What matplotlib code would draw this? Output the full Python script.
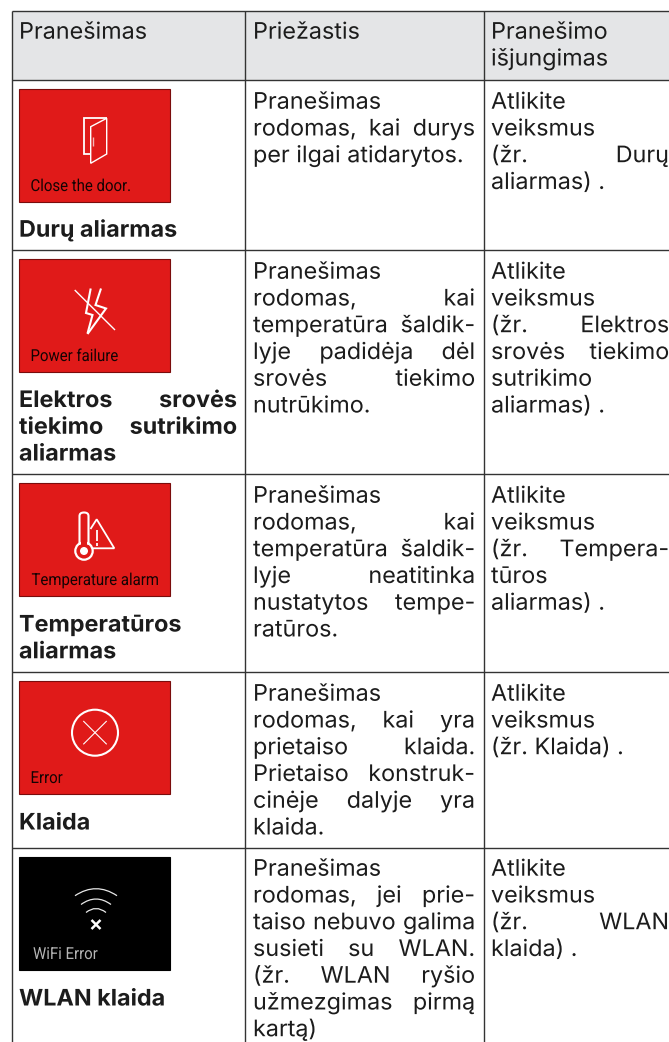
import matplotlib
matplotlib.use("Agg")
import matplotlib.pyplot as plt
from matplotlib.patches import Rectangle, Circle, Polygon, PathPatch
from matplotlib.path import Path
from matplotlib.patheffects import AbstractPathEffect
from matplotlib.transforms import Affine2D

W, H = 669, 1042
BODY = "Inter"
FS = 16.4
LEAD = 26.75
BODY_SX = 1.025
LABEL_SX = 0.905

header_1 = ["Pranešimas"]
header_2 = ["Priežastis"]
header_3 = ["Pranešimo", "išjungimas"]

# a leading ">" marks a justified line
names = [
    ["Durų aliarmas"],
    [">Elektros srovės", ">tiekimo sutrikimo", "aliarmas"],
    ["Temperatūros", "aliarmas"],
    ["Klaida"],
    ["WLAN klaida"],
]
reasons = [
    ["Pranešimas", ">rodomas, kai durys", "per ilgai atidarytos."],
    ["Pranešimas", ">rodomas, kai", ">temperatūra šaldik-", ">lyje padidėja dėl", ">srovės tiekimo", "nutrūkimo."],
    ["Pranešimas", ">rodomas, kai", ">temperatūra šaldik-", ">lyje neatitinka", ">nustatytos tempe-", "ratūros."],
    ["Pranešimas", ">rodomas, kai yra", ">prietaiso klaida.", ">Prietaiso konstruk-", ">cinėje dalyje yra", "klaida."],
    ["Pranešimas", ">rodomas, jei prie-", ">taiso nebuvo galima", ">susieti su WLAN.", ">(žr. WLAN ryšio", ">užmezgimas pirmą", "kartą)"],
]
actions = [
    ["Atlikite", "veiksmus", ">(žr. Durų", "aliarmas) ."],
    ["Atlikite", "veiksmus", ">(žr. Elektros", ">srovės tiekimo", "sutrikimo", "aliarmas) ."],
    ["Atlikite", "veiksmus", ">(žr. Tempera-", "tūros", "aliarmas) ."],
    ["Atlikite", "veiksmus", "(žr. Klaida) ."],
    ["Atlikite", "veiksmus", ">(žr. WLAN", "klaida) ."],
]
screen_labels = ["Close the door.", "Power failure", "Temperature alarm", "Error", "WiFi Error"]
row_tops = [79.5, 249.5, 474, 672, 847.5]
first_baselines = [108.7, 278.7, 502.7, 700.7, 875.7]
name_baselines = [236.7, 407, 631.5, 829.5, 1005.5]
screen_tops = [88.5, 258.5, 482.5, 680.5, 856.5]

fig = plt.figure(figsize=(W / 100, H / 100), dpi=100)
ax = fig.add_axes([0, 0, 1, 1])
ax.set_xlim(0, W)
ax.set_ylim(H, 0)
ax.axis("off")
rend = fig.canvas.get_renderer()
INK = "#1c1c1c"


class Stretch(AbstractPathEffect):
    """Draw a text's glyphs stretched horizontally around its left edge."""

    def __init__(self, sx, x0):
        super().__init__()
        self.sx, self.x0 = sx, x0

    def draw_path(self, renderer, gc, tpath, affine, rgbFace=None):
        extra = Affine2D().translate(-self.x0, 0).scale(self.sx, 1).translate(self.x0, 0)
        renderer.draw_path(gc, tpath, affine + extra, rgbFace)


def stretch(t, sx):
    x0 = ax.transData.transform((t.get_position()[0], 0))[0]
    t.set_path_effects([Stretch(sx, x0)])


def put(x, y, s, weight="normal"):
    return ax.text(x, y, s, fontsize=FS, fontweight=weight, family=BODY, color=INK, va="baseline", ha="left")


def line(x0, x1, y, s, weight="normal"):
    if s.startswith(">"):
        words = s[1:].split(" ")
        items = [put(x0, y, w, weight) for w in words]
        widths = [t.get_window_extent(rend).width * BODY_SX for t in items]
        gap = (x1 - x0 - sum(widths)) / (len(words) - 1)
        x = x0
        for t, w in zip(items, widths):
            t.set_x(x)
            x += w + gap
            stretch(t, BODY_SX)
    else:
        stretch(put(x0, y, s, weight), BODY_SX)


def block(x0, x1, y, lines, weight="normal"):
    for i, s in enumerate(lines):
        line(x0, x1, y + i * LEAD, s, weight)


COLS = [(19, 237), (253, 475), (491, 669)]
ax.add_patch(Rectangle((11.5, 10.5), W - 11.5, 69, fc="#e4e5e7", ec="none", zorder=0))
for x in (11.5, 244.8, 483.5):
    ax.plot([x, x], [10.5, H], color="#333333", lw=1.0, solid_capstyle="butt", zorder=1)
for y in [10.5] + row_tops:
    ax.plot([11.5, W], [y, y], color="#333333", lw=1.0, solid_capstyle="butt", zorder=1)

block(COLS[0][0], COLS[0][1], 38.7, header_1)
block(COLS[1][0], COLS[1][1], 38.7, header_2)
block(COLS[2][0], COLS[2][1], 38.7, header_3)
for i in range(5):
    block(COLS[1][0], COLS[1][1], first_baselines[i], reasons[i])
    block(COLS[2][0], COLS[2][1], first_baselines[i], actions[i])
    block(COLS[0][0], COLS[0][1], name_baselines[i], names[i], "bold")

# screens
SW, SH = 151, 113.4
for i, (top, lab) in enumerate(zip(screen_tops, screen_labels)):
    black = i == 4
    ax.add_patch(Rectangle((19.2, top + 0.5), SW, SH, fc="black" if black else "#e01a19",
                           ec="black" if black else "#7a0c0c", lw=0.8, zorder=2))
    lx = 33 if black else (31.5 if i == 2 else 30.5)
    t = ax.text(lx, top + 102.5, lab, fontsize=11.9, family="Roboto", color="#b5b5b5" if black else "#140303",
                va="baseline", zorder=3)
    stretch(t, LABEL_SX)


def poly(pts, lw=1.1, closed=False, color="white"):
    ax.add_patch(Polygon(pts, closed=closed, fill=False, ec=color, lw=lw, joinstyle="miter", zorder=3))


# door
poly([(90.7, 153.5), (83.5, 153.5), (83.5, 117.7), (106.7, 117.7)], 1.3)
poly([(90.7, 126.7), (106.7, 118.3), (106.7, 154), (90.7, 163.3)], 1.0, True)
poly([(92.7, 136.7), (92.7, 145.7)], 1.0, color="#f3b5b5")

# power failure
poly([(74.7, 290), (115, 330)], 1.0)
poly([(90.7, 288.5), (86, 313), (92.5, 315), (87.5, 333.5)], 1.5)
poly([(101, 288.5), (95.5, 305), (106, 308.5), (87.5, 334)], 1.5)

# temperature
ax.add_patch(PathPatch(Path([(79.5, 545), (79.5, 516), (79.5, 512.5), (84, 512.5), (88.5, 512.5), (88.5, 516), (88.5, 545)],
                            [Path.MOVETO, Path.LINETO, Path.CURVE3, Path.CURVE3, Path.CURVE3, Path.CURVE3, Path.LINETO]),
                       fill=False, ec="white", lw=1.5, zorder=3))
ax.add_patch(Circle((84, 551), 8.7, fill=False, ec="white", lw=1.6, zorder=3))
ax.add_patch(Rectangle((80.6, 540), 6.8, 5, fc="#e01a19", ec="none", zorder=3.1))
ax.add_patch(Circle((84, 551), 4, fc="white", ec="none", zorder=3.2))
poly([(90.5, 529), (96.7, 519.3), (114.3, 548.3), (92, 548.3)], 1.3)
poly([(96.7, 530), (96.7, 541)], 1.3)
poly([(96.7, 543), (96.7, 545.5)], 1.3)

# error
ax.add_patch(Circle((95, 732.7), 23, fill=False, ec="white", lw=1.5, zorder=3))
poly([(83.3, 721), (106.7, 744.3)], 0.8)
poly([(106.7, 721), (83.3, 744.3)], 0.8)

# wifi
for half, rise, y in [(21, 7, 895.7), (15, 5.5, 904.5), (10, 4, 912.5)]:
    ax.add_patch(PathPatch(Path([(96 - half, y), (96, y - 2 * rise), (96 + half, y)],
                                [Path.MOVETO, Path.CURVE3, Path.CURVE3]),
                           fill=False, ec="#e8e8e8", lw=0.9, zorder=3))
poly([(91.5, 920), (100.5, 929)], 1.8)
poly([(100.5, 920), (91.5, 929)], 1.8)

fig.savefig("out.png", dpi=100)
